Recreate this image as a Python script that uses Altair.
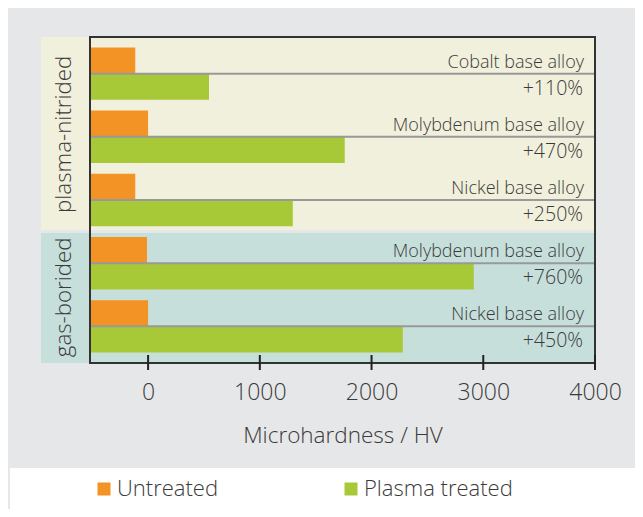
import altair as alt
import pandas as pd

# ---------------- data ----------------
ALLOYS = ["Cobalt base alloy", "Molybdenum base alloy", "Nickel base alloy",
          "Molybdenum base alloy", "Nickel base alloy"]
TREATMENTS = ["plasma-nitrided", "plasma-nitrided", "plasma-nitrided",
              "gas-borided", "gas-borided"]
UNTREATED = [-115, 0, -115, -10, 0]
PLASMA = [545, 1760, 1295, 2915, 2280]
INCREASE = ["+110%", "+470%", "+250%", "+760%", "+450%"]
SERIES = ["Untreated", "Plasma treated"]
BAND_NAMES = ["plasma-nitrided", "gas-borided"]
TICKS = [0, 1000, 2000, 3000, 4000]
X_TITLE = "Microhardness / HV"
X_MIN, X_MAX = -520, 4000

# ---------------- style ----------------
BG = "#e6e7e8"
CREAM = "#f1f0dc"
TEAL = "#c6dfdb"
ORANGE = "#f39325"
GREEN = "#a8c937"
SEP = "#999999"
FRAME = "#333333"
TXT = "#3a3a3a"
FONT = "Open Sans"
FW = 300

W, H = 505, 326
PAD = 0.58      # half-group padding at top / bottom of plot
BAR = 0.415     # bar thickness in group units
STRIP = 49      # width of the left label strip (px)

n = len(ALLOYS)

groups = pd.DataFrame({
    "k": list(range(n)),
    "alloy": ALLOYS,
    "band": TREATMENTS,
    "inc": INCREASE,
})

bar_rows = []
for k in range(n):
    bar_rows.append({"series": SERIES[0], "value": UNTREATED[k], "y0": k - BAR, "y1": k})
    bar_rows.append({"series": SERIES[1], "value": PLASMA[k], "y0": k, "y1": k + BAR})
bars = pd.DataFrame(bar_rows)

band_rows = []
for i, b in enumerate(BAND_NAMES):
    ks = [k for k in range(n) if TREATMENTS[k] == b]
    lo = min(ks) - (PAD if i == 0 else 0.5)
    hi = max(ks) + (PAD if i == len(BAND_NAMES) - 1 else 0.5)
    band_rows.append({"band": b, "y0": lo, "y1": hi, "mid": (lo + hi) / 2})
bands = pd.DataFrame(band_rows)
gaps = pd.DataFrame({"y": [r["y1"] for r in band_rows[:-1]]})
ticks = pd.DataFrame({"t": TICKS})
one = pd.DataFrame({"_": [0]})

xs = alt.Scale(domain=[X_MIN, X_MAX], nice=False, zero=False)
ys = alt.Scale(domain=[-PAD, n - 1 + PAD], nice=False, zero=False, reverse=True)

legend_box = alt.Chart(one).mark_rect(color="white").encode(
    x=alt.value(-80), x2=alt.value(545), y=alt.value(431), y2=alt.value(472)
)

band_rect = alt.Chart(bands).mark_rect().encode(
    x=alt.value(-STRIP), x2=alt.value(W),
    y=alt.Y("y0:Q", scale=ys, axis=None), y2="y1:Q",
    fill=alt.Fill("band:N", scale=alt.Scale(domain=BAND_NAMES, range=[CREAM, TEAL]), legend=None),
)

gap_rule = alt.Chart(gaps).mark_rule(color=BG, strokeWidth=3).encode(
    x=alt.value(-STRIP), x2=alt.value(W), y=alt.Y("y:Q", scale=ys)
)

bar_layer = alt.Chart(bars).mark_rect().encode(
    x=alt.X("value:Q", scale=xs,
            axis=alt.Axis(values=TICKS, format="d", title=X_TITLE, ticks=False, domain=False,
                          grid=False, labelFontSize=23, labelFont=FONT, labelColor=TXT,
                          labelFontWeight=FW, labelFlush=False,
                          labelPadding=18, titleFontSize=22.5, titleFont=FONT, titleColor=TXT,
                          titleFontWeight=FW, titlePadding=20)),
    x2=alt.datum(X_MIN),
    y=alt.Y("y0:Q", scale=ys), y2="y1:Q",
    color=alt.Color("series:N", scale=alt.Scale(domain=SERIES, range=[ORANGE, GREEN]),
                    legend=alt.Legend(orient="none", legendX=3, legendY=441, direction="horizontal",
                                      title=None, symbolType="square", symbolSize=169,
                                      symbolStrokeWidth=0, symbolOpacity=1,
                                      labelFontSize=22, labelFont=FONT, labelColor=TXT,
                                      labelFontWeight=FW,
                                      columnPadding=121, labelOffset=2, padding=0)),
)

sep_rule = alt.Chart(groups).mark_rule(color=SEP, strokeWidth=2).encode(
    x=alt.datum(X_MIN), x2=alt.datum(X_MAX), y=alt.Y("k:Q", scale=ys)
)

alloy_text = alt.Chart(groups).mark_text(
    align="right", baseline="alphabetic", dx=-11, dy=-6, fontSize=18, font=FONT,
    fontWeight=FW, color=TXT
).encode(x=alt.datum(X_MAX), y=alt.Y("k:Q", scale=ys), text="alloy:N")

inc_text = alt.Chart(groups).mark_text(
    align="right", baseline="alphabetic", dx=-12, dy=21, fontSize=19.5, font=FONT,
    fontWeight=FW, color=TXT
).encode(x=alt.datum(X_MAX), y=alt.Y("k:Q", scale=ys), text="inc:N")

frame = alt.Chart(one).mark_rect(fillOpacity=0, stroke=FRAME, strokeWidth=2).encode(
    x=alt.datum(X_MIN), x2=alt.datum(X_MAX),
    y=alt.datum(-PAD), y2=alt.datum(n - 1 + PAD),
)

tick_rules = alt.Chart(ticks).mark_rule(color="#222222", strokeWidth=2).encode(
    x=alt.X("t:Q", scale=xs), y=alt.value(H - 8), y2=alt.value(H + 7)
)

strip_text = alt.Chart(bands).mark_text(
    angle=270, align="center", baseline="middle", fontSize=22.3, font=FONT,
    fontWeight=FW, color=TXT
).encode(x=alt.value(-STRIP / 2 - 2), y=alt.Y("mid:Q", scale=ys), text="band:N")

chart = alt.layer(
    legend_box, band_rect, gap_rule, bar_layer, sep_rule, alloy_text, inc_text,
    frame, tick_rules, strip_text
).properties(
    width=W, height=H,
    autosize=alt.AutoSizeParams(type="none"),
    padding={"left": 82, "top": 29, "right": 40, "bottom": 146},
    background=BG,
).configure_view(strokeWidth=0)

chart.save("out.html", embed_options={"renderer": "svg", "actions": False})
